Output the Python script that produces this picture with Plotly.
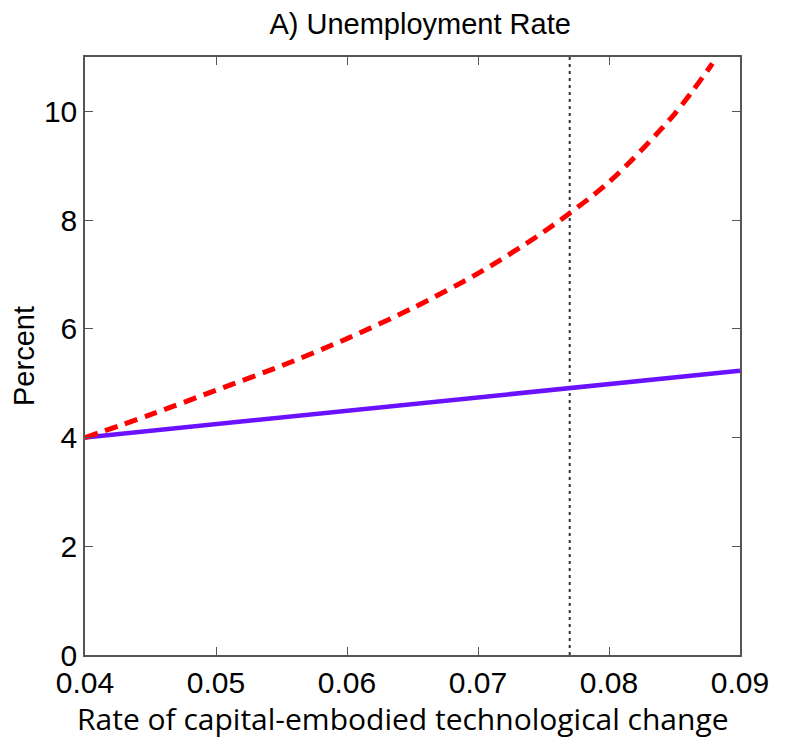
import plotly.graph_objects as go

x_red = [0.040, 0.045, 0.050, 0.055, 0.060, 0.065, 0.070, 0.075, 0.080, 0.085, 0.0879]
y_red = [4.00, 4.42, 4.87, 5.32, 5.82, 6.38, 7.02, 7.78, 8.70, 9.95, 10.88]
x_blue = [0.040, 0.090]
y_blue = [4.00, 5.23]
x_vline = 0.077
title_text = "A) Unemployment Rate"
x_title = "Rate of capital-embodied technological change"
y_title = "Percent"
x_ticks = [0.04, 0.05, 0.06, 0.07, 0.08, 0.09]
y_ticks = [0, 2, 4, 6, 8, 10]

fig = go.Figure()
fig.add_trace(go.Scatter(x=[x_vline, x_vline], y=[0, 11], mode="lines",
                         line=dict(color="#333333", width=2, dash="3px,4px"), showlegend=False))
fig.add_trace(go.Scatter(x=x_blue, y=y_blue, mode="lines",
                         line=dict(color="#6a11ff", width=4.5), showlegend=False))
fig.add_trace(go.Scatter(x=x_red, y=y_red, mode="lines",
                         line=dict(color="#ff0000", width=5, dash="13px,8px", shape="spline",
                                   smoothing=0.8),
                         showlegend=False))

tickfont = dict(family="Liberation Sans Narrow, Arial Narrow, Liberation Sans", size=30, color="black")
axis_common = dict(showgrid=False, zeroline=False, showline=True, linecolor="#555555",
                   linewidth=1.5, mirror="ticks", ticks="inside", ticklen=8,
                   tickcolor="#555555", tickfont=tickfont, automargin=False)
fig.update_xaxes(range=[0.04, 0.09], tickvals=x_ticks, ticktext=[f"{v:.2f}" for v in x_ticks],
                 **axis_common)
fig.update_yaxes(range=[0, 11], tickvals=y_ticks,
                 title=dict(text=y_title, font=dict(family="Liberation Sans, Arial", size=29, color="black"),
                            standoff=10), **axis_common)
fig.add_annotation(text=x_title, xref="paper", yref="paper", x=0.485, y=-0.143,
                   xanchor="center", yanchor="bottom", showarrow=False,
                   font=dict(family="Open Sans", size=30, color="black"))
fig.update_layout(
    width=785, height=741,
    margin=dict(l=77, r=53, t=49, b=94),
    plot_bgcolor="white", paper_bgcolor="white",
    title=dict(text=title_text, x=0.525, xanchor="center", y=0.978, yanchor="middle",
               font=dict(family="Liberation Sans, Arial", size=29, color="black")),
)
fig.write_html("out.html")
